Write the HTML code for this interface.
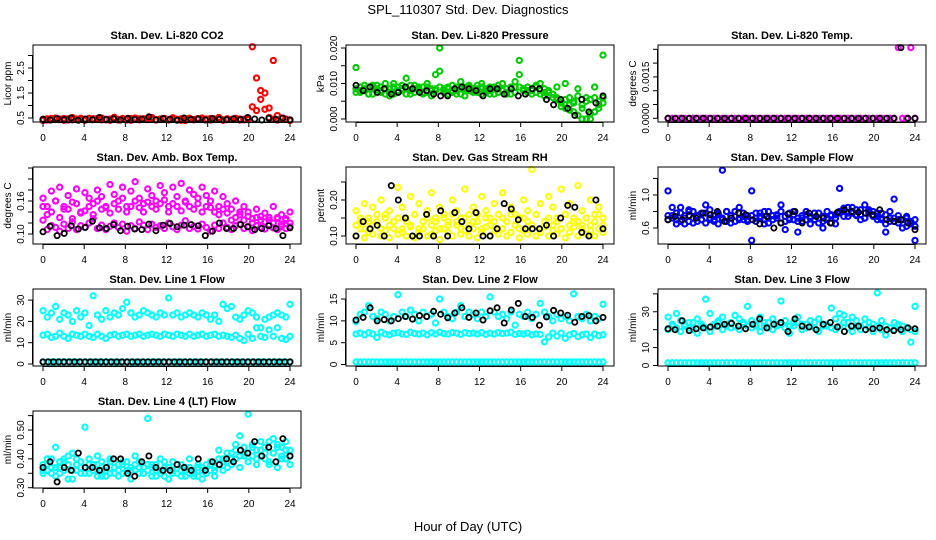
<!DOCTYPE html>
<html><head><meta charset="utf-8">
<style>
html,body{margin:0;padding:0;background:#fff;}
svg{display:block;font-family:"Liberation Sans",sans-serif;}
</style></head>
<body>
<svg id="chart" width="936" height="540" viewBox="0 0 936 540">
<rect width="936" height="540" fill="#fff"/>
<text x="468" y="14" text-anchor="middle" font-size="13">SPL_110307  Std. Dev. Diagnostics</text>
<text x="468" y="531" text-anchor="middle" font-size="13">Hour of Day (UTC)</text>
</svg>
<script>
const xTicks = [0,4,8,12,16,20,24];

const co2A = [0.40,0.47,0.43,0.50,0.44,0.48,0.42,0.52,0.46,0.45,0.41,0.49,0.47,0.44,0.50,0.43,0.46,0.53,0.42,0.48,0.45,0.41,0.50,0.47,0.44,0.49,0.52,0.43,0.46,0.48,0.42,0.51,0.45,0.47,0.40,0.49,0.44,0.46,0.50,0.43,0.48,0.45,0.52,0.41,0.47,0.44,0.49,0.46,0.43,0.50,0.95,0.80,1.25,0.85,0.52,0.45,0.42,0.49,0.46,0.40];
const co2B = [0.45,0.42,0.48,0.44,0.46,0.41,0.47,0.43,0.45,0.49,0.42,0.46,0.44,0.48,0.43,0.45,0.41,0.47,0.44,0.46,0.42,0.48,0.45,0.43,0.47,0.44,0.46,0.42,0.45,0.48,0.43,0.46,0.44,0.41,0.47,0.45,0.43,0.48,0.44,0.46,0.42,0.45,0.47,0.43,0.46,0.44,0.48,0.42,0.45,0.44,3.35,2.1,1.6,1.5,0.9,2.8,0.6,0.5,0.45,0.42];
const co2K = [0.45,0.42,0.48,0.44,0.50,0.41,0.46,0.43,0.52,0.45,0.47,0.42,0.49,0.44,0.46,0.55,0.43,0.48,0.45,0.41,0.50,0.44,0.46,0.42,0.48,0.45,0.43,0.47,0.44,0.52,0.46,0.42,0.49,0.45,0.50,0.43];

const presA = [0.0145,0.008,0.0095,0.007,0.009,0.0085,0.0075,0.010,0.0065,0.009,0.008,0.0095,0.0115,0.007,0.0085,0.009,0.0075,0.0100,0.008,0.0125,0.020,0.0085,0.0070,0.0095,0.008,0.0105,0.0065,0.009,0.0085,0.0075,0.0100,0.008,0.0090,0.0070,0.0085,0.0100,0.0075,0.0090,0.0105,0.0165,0.0085,0.0080,0.0070,0.0095,0.0100,0.0085,0.0080,0.0060,0.0090,0.0050,0.0100,0.0040,0.0020,0.0085,0.0000,0.0060,0.0000,0.0090,0.0030,0.0180];
const presB = [0.0085,0.0075,0.0080,0.0090,0.0070,0.0095,0.0080,0.0085,0.0075,0.0070,0.0090,0.0080,0.0085,0.0095,0.0075,0.0080,0.0070,0.0090,0.0085,0.0080,0.0135,0.0075,0.0090,0.0080,0.0070,0.0085,0.0090,0.0080,0.0075,0.0095,0.0070,0.0085,0.0080,0.0090,0.0075,0.0080,0.0085,0.0070,0.0090,0.0125,0.0080,0.0075,0.0085,0.0090,0.0080,0.0075,0.0065,0.0070,0.0055,0.0045,0.0030,0.0060,0.0050,0.0010,0.0040,0.0000,0.0055,0.0020,0.0050,0.0045];
const presC = [0.0075,0.0090,0.0085,0.0070,0.0095,0.0080,0.0090,0.0070,0.0085,0.0100,0.0075,0.0085,0.0070,0.0080,0.0095,0.0085,0.0090,0.0075,0.0065,0.0085,0.0090,0.0080,0.0085,0.0075,0.0090,0.0070,0.0085,0.0095,0.0080,0.0085,0.0090,0.0075,0.0070,0.0085,0.0095,0.0080,0.0070,0.0085,0.0075,0.0090,0.0085,0.0090,0.0080,0.0075,0.0070,0.0065,0.0075,0.0070,0.0060,0.0035,0.0055,0.0025,0.0045,0.0065,0.0030,0.0050,0.0015,0.0060,0.0040,0.0060];
const presK = [0.0095,0.008,0.009,0.0075,0.0085,0.007,0.0075,0.009,0.0085,0.0075,0.008,0.007,0.0065,0.0065,0.0085,0.009,0.0085,0.008,0.0065,0.0085,0.0085,0.007,0.0085,0.0065,0.007,0.0085,0.0085,0.0055,0.004,0.0055,0.003,0.001,0.0055,0.002,0.0045,0.0065];

const tempM = [0,0,0,0,0,0,0,0,0,0,0,0,0,0,0,0,0,0,0,0,0,0,0,0,0,0,0,0,0,0,0,0,0,0,0,0,0,0,0,0,0,0,0,0,0,0,0,0,0,0,0,0,0,0,0,0.00256,0,0,0.00256,0];
const tempK = [0,0,0,0,0,0,0,0,0,0,0,0,0,0,0,0,0,0,0,0,0,0,0,0,0,0,0,0,0,0,0,0,0,0.00256,0,0];

const ambA = [0.165,0.150,0.178,0.160,0.185,0.145,0.170,0.158,0.182,0.140,0.175,0.165,0.155,0.180,0.168,0.148,0.190,0.172,0.160,0.185,0.150,0.178,0.195,0.165,0.155,0.182,0.170,0.160,0.188,0.175,0.150,0.185,0.168,0.192,0.158,0.180,0.172,0.165,0.185,0.170,0.160,0.178,0.150,0.168,0.155,0.145,0.160,0.135,0.150,0.140,0.128,0.145,0.132,0.138,0.125,0.150,0.130,0.135,0.128,0.140];
const ambB = [0.125,0.108,0.115,0.112,0.105,0.118,0.110,0.122,0.108,0.115,0.112,0.120,0.128,0.110,0.116,0.108,0.114,0.120,0.112,0.118,0.105,0.115,0.110,0.122,0.116,0.108,0.118,0.112,0.115,0.110,0.120,0.113,0.108,0.116,0.124,0.110,0.114,0.109,0.118,0.112,0.105,0.116,0.110,0.120,0.112,0.108,0.115,0.118,0.110,0.113,0.106,0.115,0.112,0.109,0.117,0.111,0.108,0.114,0.110,0.113];
const ambC = [0.150,0.135,0.140,0.160,0.130,0.150,0.145,0.128,0.155,0.138,0.142,0.150,0.135,0.160,0.145,0.150,0.138,0.155,0.145,0.165,0.140,0.150,0.160,0.148,0.140,0.158,0.150,0.145,0.155,0.162,0.140,0.155,0.150,0.142,0.160,0.150,0.145,0.155,0.140,0.150,0.148,0.140,0.135,0.145,0.138,0.125,0.130,0.140,0.125,0.132,0.120,0.130,0.125,0.122,0.130,0.120,0.128,0.118,0.125,0.120];
const ambK = [0.104,0.114,0.097,0.101,0.115,0.109,0.112,0.123,0.111,0.110,0.117,0.106,0.114,0.109,0.108,0.118,0.106,0.116,0.119,0.113,0.116,0.117,0.115,0.097,0.105,0.120,0.110,0.110,0.117,0.113,0.108,0.110,0.115,0.110,0.097,0.111];

const rhA = [0.10,0.12,0.095,0.11,0.105,0.13,0.10,0.115,0.095,0.12,0.105,0.11,0.10,0.125,0.095,0.11,0.12,0.10,0.105,0.115,0.09,0.12,0.11,0.10,0.13,0.105,0.115,0.10,0.12,0.095,0.11,0.125,0.10,0.115,0.105,0.12,0.10,0.11,0.13,0.095,0.115,0.105,0.12,0.10,0.11,0.125,0.10,0.115,0.105,0.12,0.095,0.11,0.125,0.10,0.13,0.105,0.115,0.10,0.12,0.11];
const rhB = [0.17,0.15,0.19,0.14,0.18,0.16,0.20,0.15,0.17,0.14,0.235,0.18,0.15,0.21,0.16,0.19,0.14,0.17,0.22,0.15,0.18,0.16,0.14,0.20,0.17,0.15,0.23,0.16,0.18,0.14,0.21,0.17,0.15,0.19,0.16,0.22,0.14,0.18,0.16,0.15,0.20,0.17,0.285,0.16,0.19,0.14,0.21,0.18,0.15,0.23,0.16,0.19,0.14,0.24,0.17,0.15,0.20,0.16,0.18,0.15];
const rhC = [0.13,0.14,0.12,0.15,0.13,0.14,0.12,0.16,0.13,0.14,0.15,0.12,0.14,0.13,0.16,0.12,0.14,0.15,0.13,0.14,0.12,0.15,0.13,0.16,0.14,0.12,0.15,0.13,0.14,0.16,0.12,0.15,0.13,0.14,0.12,0.15,0.14,0.16,0.13,0.12,0.15,0.14,0.13,0.16,0.12,0.14,0.15,0.13,0.14,0.12,0.16,0.13,0.15,0.14,0.12,0.15,0.13,0.14,0.16,0.13];
const rhK = [0.10,0.14,0.12,0.13,0.10,0.24,0.20,0.15,0.10,0.10,0.16,0.10,0.17,0.10,0.165,0.14,0.12,0.165,0.10,0.10,0.12,0.19,0.175,0.145,0.12,0.12,0.12,0.13,0.10,0.15,0.185,0.18,0.11,0.10,0.20,0.12];

const sfA = [1.05,0.75,0.70,0.85,0.65,0.80,0.72,0.68,0.78,0.88,0.70,0.75,0.65,1.30,0.80,0.72,0.68,0.85,0.70,0.75,0.45,0.78,0.72,0.65,0.80,0.70,0.75,0.88,0.68,0.72,0.80,0.55,0.75,0.70,0.65,0.78,0.72,0.60,0.80,0.75,0.65,1.08,0.80,0.85,0.78,0.75,0.70,0.88,0.82,0.75,0.78,0.72,0.65,0.80,0.95,0.70,0.60,0.72,0.65,0.45];
const sfB = [0.75,0.85,0.65,0.78,0.72,0.68,0.80,0.75,0.70,0.66,0.82,0.70,0.78,0.72,0.68,0.75,0.80,0.70,0.74,0.68,1.05,0.72,0.78,0.70,0.66,0.75,0.72,0.80,0.58,0.70,0.76,0.68,0.72,0.80,0.74,0.70,0.78,0.68,0.72,0.66,0.76,0.80,0.74,0.78,0.85,0.82,0.76,0.72,0.80,0.74,0.70,0.78,0.55,0.72,0.68,0.75,0.70,0.62,0.68,0.62];
const sfC = [0.70,0.72,0.78,0.68,0.75,0.82,0.66,0.74,0.70,0.78,0.72,0.68,0.76,0.70,0.80,0.66,0.74,0.72,0.78,0.70,0.75,0.68,0.74,0.80,0.72,0.70,0.76,0.66,0.74,0.78,0.70,0.72,0.68,0.76,0.72,0.70,0.66,0.74,0.70,0.76,0.72,0.78,0.84,0.74,0.80,0.76,0.82,0.72,0.78,0.80,0.74,0.70,0.76,0.68,0.72,0.66,0.70,0.74,0.66,0.70];
const sfK = [0.70,0.74,0.70,0.75,0.72,0.78,0.76,0.80,0.68,0.72,0.78,0.76,0.70,0.65,0.74,0.60,0.66,0.77,0.80,0.66,0.78,0.74,0.72,0.66,0.79,0.82,0.80,0.79,0.78,0.76,0.82,0.70,0.68,0.70,0.66,0.58];

const l1A = [25,22,24,27,21,24,23,20,25,22,24,18,32,23,21,25,22,24,23,26,29,24,22,23,25,24,23,22,24,23,31,23,24,22,23,24,23,22,24,23,21,23,20,28,26,27,22,21,23,25,24,22,17,21,22,23,24,23,22,28];
const l1B = [13.5,14,12.5,13,14.5,13,12,14,13.5,13,14,13,12.5,14,13,12,13.5,14,13,13.5,14,13,13.5,14,13,13.5,14,13.5,13,14,13.5,13,14,13.5,13,14,13,13.5,14,13,13.5,14,13,13.5,13,12.5,13.5,12,11,14,12,17,13,12.5,16,13,17,12,11.5,13];
const l1C = [1,1,1,1,1,1,1,1,1,1,1,1,1,1,1,1,1,1,1,1,1,1,1,1,1,1,1,1,1,1,1,1,1,1,1,1,1,1,1,1,1,1,1,1,1,1,1,1,1,1,1,1,1,1,1,1,1,1,1,1];
const l1K = [1,1,1,1,1,1,1,1,1,1,1,1,1,1,1,1,1,1,1,1,1,1,1,1,1,1,1,1,1,1,1,1,1,1,1,1,1,1,1,1,1,1,1,1,1,1,1,1];

const l2A = [9.8,11.5,12,13.5,11,10.5,12,11.5,10,11,16,12,11,12.5,11.5,10,12,11,11.5,9.5,15,12,11,10.5,12,13.5,11,12,11.5,10.5,12,11,15.5,12,11,11.5,10.5,12,9,11.5,11,12,10.5,11.5,14,12,11,10,11.5,10.5,11,10,16.2,11,10.5,11.5,10,11,10.5,13.8];
const l2B = [7,7.2,6.8,7.3,7,6.2,7.4,7,6.8,7.2,7.3,7,6.9,7.4,7.1,7,7.2,6.8,7.3,7,7.4,7.1,7,7.3,7.2,6.9,7.3,7.1,7.2,7,7.3,6.9,7.2,7,7.3,7.1,7.2,7.4,6.9,7.1,7,7.2,6.8,7,6.9,5.2,6.3,7.2,6.5,7.2,6,6.8,7.1,6.4,6.8,7,6.2,7,6.6,6.8];
const l2C = [0.6,0.6,0.6,0.6,0.6,0.6,0.6,0.6,0.6,0.6,0.6,0.6,0.6,0.6,0.6,0.6,0.6,0.6,0.6,0.6,0.6,0.6,0.6,0.6,0.6,0.6,0.6,0.6,0.6,0.6,0.6,0.6,0.6,0.6,0.6,0.6,0.6,0.6,0.6,0.6,0.6,0.6,0.6,0.6,0.6,0.6,0.6,0.6,0.6,0.6,0.6,0.6,0.6,0.6,0.6,0.6,0.6,0.6,0.6,0.6];
const l2K = [10.2,10.8,13,10,10.3,10,10.5,11,10.4,11.2,11,12.2,11.5,10.7,11.8,13,10.8,11.8,10.2,12.3,13,9.5,12.5,14,11,10.8,9,10.9,12.4,11.8,11.3,9.7,11,11.2,10,10.8];

const l3A = [27,22,29,25,23,21,24,26,22,37,29,23,25,27,22,24,28,26,23,33,25,22,27,24,21,26,23,36,25,22,24,27,23,21,25,24,26,22,23,32,26,29,28,24,27,25,22,26,24,23,40.5,25,22,21,24,23,22,21,13,33];
const l3B = [20,23,21,19,22,24,20,18,23,21,19,22,24,20,23,21,22,20,24,22,21,23,19,22,24,20,22,23,21,18,22,24,20,23,22,21,19,23,22,21,20,22,24,21,19,22,20,23,21,19,22,20,17,21,20,22,19,21,20,19];
const l3C = [1.5,1.5,1.5,1.5,1.5,1.5,1.5,1.5,1.5,1.5,1.5,1.5,1.5,1.5,1.5,1.5,1.5,1.5,1.5,1.5,1.5,1.5,1.5,1.5,1.5,1.5,1.5,1.5,1.5,1.5,1.5,1.5,1.5,1.5,1.5,1.5,1.5,1.5,1.5,1.5,1.5,1.5,1.5,1.5,1.5,1.5,1.5,1.5,1.5,1.5,1.5,1.5,1.5,1.5,1.5,1.5,1.5,1.5,1.5,1.5];
const l3K = [20.5,20,25,19.5,20.5,21,21.5,22,23,23.5,22,20.5,23,26,21,23,24,19,26,22,21.5,20,23,24,21.5,19,22,22,20,20.5,21,20,19.5,20,21,20.5];

const l4A = [0.36,0.38,0.35,0.44,0.37,0.40,0.33,0.42,0.36,0.39,0.51,0.35,0.38,0.41,0.36,0.34,0.40,0.37,0.38,0.35,0.39,0.36,0.41,0.37,0.35,0.54,0.38,0.36,0.40,0.34,0.37,0.39,0.35,0.38,0.36,0.40,0.34,0.37,0.33,0.38,0.39,0.36,0.43,0.40,0.37,0.42,0.45,0.48,0.41,0.555,0.44,0.40,0.46,0.42,0.38,0.47,0.44,0.41,0.46,0.43];
const l4B = [0.38,0.36,0.40,0.37,0.35,0.39,0.41,0.36,0.38,0.35,0.37,0.40,0.36,0.38,0.34,0.37,0.39,0.35,0.36,0.38,0.35,0.37,0.36,0.39,0.35,0.38,0.37,0.34,0.36,0.39,0.37,0.35,0.38,0.36,0.34,0.37,0.35,0.38,0.36,0.35,0.38,0.37,0.40,0.39,0.42,0.40,0.43,0.41,0.44,0.42,0.45,0.43,0.41,0.44,0.46,0.42,0.45,0.40,0.43,0.41];
const l4C = [0.35,0.40,0.37,0.34,0.39,0.36,0.38,0.33,0.40,0.37,0.35,0.38,0.36,0.34,0.39,0.36,0.35,0.37,0.34,0.39,0.36,0.33,0.38,0.35,0.37,0.36,0.34,0.38,0.35,0.37,0.33,0.36,0.38,0.34,0.37,0.35,0.36,0.34,0.37,0.35,0.36,0.34,0.38,0.36,0.39,0.38,0.40,0.37,0.42,0.39,0.41,0.38,0.43,0.40,0.39,0.42,0.37,0.44,0.40,0.38];
const l4K = [0.37,0.39,0.32,0.37,0.36,0.42,0.37,0.37,0.36,0.37,0.40,0.40,0.35,0.34,0.39,0.41,0.37,0.36,0.36,0.38,0.37,0.36,0.40,0.36,0.39,0.38,0.40,0.39,0.43,0.42,0.46,0.41,0.44,0.39,0.47,0.41];

const co2Ticks = [0.5,1,1.5,2,2.5,3];
const co2Labels = ["0.5","","1.5","","2.5",""];
const presTicks = [0,0.005,0.01,0.015,0.02];
const presLabels = ["0.000","","0.010","","0.020"];
const tempTicks = [0,0.0005,0.001,0.0015,0.002,0.0025];
const tempLabels = ["0.0000","","","0.0015","",""];
const ambTicks = [0.10,0.12,0.14,0.16,0.18,0.20,0.22];
const ambLabels = ["0.10","","","0.16","","",""];
const rhTicks = [0.10,0.15,0.20,0.25];
const rhLabels = ["0.10","","0.20",""];
const sfTicks = [0.6,0.8,1.0,1.2];
const sfLabels = ["0.6","","1.0",""];
const l1Ticks = [0,10,20,30];
const l1Labels = ["0","10","20","30"];
const l2Ticks = [0,5,10,15];
const l2Labels = ["0","5","10","15"];
const l3Ticks = [0,10,20,30,40];
const l3Labels = ["0","10","","30",""];
const l4Ticks = [0.30,0.35,0.40,0.45,0.50,0.55];
const l4Labels = ["0.30","","0.40","","0.50",""];

const NS = "http://www.w3.org/2000/svg";
const svg = document.getElementById("chart");
function mk(tag, attrs, parent) {
  const e = document.createElementNS(NS, tag);
  for (const k in attrs) e.setAttribute(k, attrs[k]);
  parent.appendChild(e);
  return e;
}
const colLeft = [33, 346, 658];
const rowTop = [45, 167, 289, 411];
const boxW = 268, boxH = 77;

const panels = [
 {name:"co2", title:"Stan. Dev. Li-820 CO2", ylab:"Licor ppm", c:0, r:0, ymin:0.34, ymax:3.42, ticks:co2Ticks, labels:co2Labels, series:[[co2A,"#ff0000"],[co2B,"#ff0000"],[co2K,"#000"]]},
 {name:"pressure", title:"Stan. Dev. Li-820 Pressure", ylab:"kPa", c:1, r:0, ymin:-0.00085, ymax:0.02085, ticks:presTicks, labels:presLabels, series:[[presA,"#00cc00"],[presB,"#00cc00"],[presC,"#00cc00"],[presK,"#000"]]},
 {name:"li-temp", title:"Stan. Dev. Li-820 Temp.", ylab:"degrees C", c:2, r:0, ymin:-0.000134, ymax:0.002656, ticks:tempTicks, labels:tempLabels, series:[[tempM,"#ff00ff"],[tempK,"#000"]]},
 {name:"amb-temp", title:"Stan. Dev. Amb. Box Temp.", ylab:"degrees C", c:0, r:1, ymin:0.0818, ymax:0.2218, ticks:ambTicks, labels:ambLabels, series:[[ambA,"#ff00ff"],[ambB,"#ff00ff"],[ambC,"#ff00ff"],[ambK,"#000"]]},
 {name:"rh", title:"Stan. Dev. Gas Stream RH", ylab:"percent", c:1, r:1, ymin:0.0778, ymax:0.2917, ticks:rhTicks, labels:rhLabels, series:[[rhA,"#ffff00"],[rhB,"#ffff00"],[rhC,"#ffff00"],[rhK,"#000"]]},
 {name:"sample-flow", title:"Stan. Dev. Sample Flow", ylab:"ml/min", c:2, r:1, ymin:0.406, ymax:1.339, ticks:sfTicks, labels:sfLabels, series:[[sfA,"#0000ff"],[sfB,"#0000ff"],[sfC,"#0000ff"],[sfK,"#000"]]},
 {name:"line1", title:"Stan. Dev. Line 1 Flow", ylab:"ml/min", c:0, r:2, ymin:-0.94, ymax:35.2, ticks:l1Ticks, labels:l1Labels, series:[[l1A,"#00ffff"],[l1B,"#00ffff"],[l1C,"#00ffff"],[l1K,"#000"]]},
 {name:"line2", title:"Stan. Dev. Line 2 Flow", ylab:"ml/min", c:1, r:2, ymin:-0.34, ymax:17.3, ticks:l2Ticks, labels:l2Labels, series:[[l2A,"#00ffff"],[l2B,"#00ffff"],[l2C,"#00ffff"],[l2K,"#000"]]},
 {name:"line3", title:"Stan. Dev. Line 3 Flow", ylab:"ml/min", c:2, r:2, ymin:-0.28, ymax:42.7, ticks:l3Ticks, labels:l3Labels, series:[[l3A,"#00ffff"],[l3B,"#00ffff"],[l3C,"#00ffff"],[l3K,"#000"]]},
 {name:"line4", title:"Stan. Dev. Line 4 (LT) Flow", ylab:"ml/min", c:0, r:3, ymin:0.299, ymax:0.566, ticks:l4Ticks, labels:l4Labels, series:[[l4A,"#00ffff"],[l4B,"#00ffff"],[l4C,"#00ffff"],[l4K,"#000"]]}
];

panels.forEach(p => {
  const L = colLeft[p.c], T = rowTop[p.r];
  const g = mk("g", {}, svg);
  
  
  const xs = h => L + 10 + h * 247 / 24;
  const ys = v => T + boxH - (v - p.ymin) / (p.ymax - p.ymin) * boxH;
  const t = mk("text", {x: L + boxW/2, y: T - 6, "text-anchor":"middle", "font-size":"11", "font-weight":"bold"}, g);
  t.textContent = p.title;
  
  
  p.series.forEach((s, si) => {
    const vals = s[0], col = s[1];
    const black = col === "#000";
    const sg = mk("g", {fill:"none", stroke:col, "stroke-width": black ? "1.8" : "2.1"}, g);
    
    
    const n = vals.length;
    vals.forEach((v, i) => {
      const h = 24 * i / (n - 1);
      const c = mk("circle", {cx: xs(h).toFixed(1), cy: ys(v).toFixed(1), r: "2.6"}, sg);
      
      
    });
  });
  const b = mk("rect", {x:L, y:T, width:boxW, height:boxH, fill:"none", stroke:"#000", "stroke-width":"1"}, g);
  
  
  const xa = mk("g", {}, g);
  
  
  mk("line", {x1: xs(0), x2: xs(24), y1: T + boxH + 0.5, y2: T + boxH + 0.5, stroke:"#000"}, xa);
  xTicks.forEach(h => {
    mk("line", {x1: xs(h), x2: xs(h), y1: T + boxH, y2: T + boxH + 5, stroke:"#000"}, xa);
    const tl = mk("text", {x: xs(h), y: T + boxH + 19, "text-anchor":"middle", "font-size":"10"}, xa);
    tl.textContent = h;
    
    
  });
  const ya = mk("g", {}, g);
  
  
  mk("line", {x1: L - 0.5, x2: L - 0.5, y1: ys(p.ticks[0]), y2: ys(p.ticks[p.ticks.length-1]), stroke:"#000"}, ya);
  p.ticks.forEach((v, i) => {
    const y = ys(v);
    mk("line", {x1: L - 5, x2: L, y1: y, y2: y, stroke:"#000"}, ya);
    if (p.labels[i]) {
      const yl = mk("text", {x: L - 9, y: y, "text-anchor":"middle", "font-size":"10", transform:`rotate(-90 ${L-9} ${y})`}, ya);
      yl.textContent = p.labels[i];
      
      
    }
  });
  const yt = mk("text", {x: L - 22, y: T + boxH/2, "text-anchor":"middle", "font-size":"10", transform:`rotate(-90 ${L-22} ${T+boxH/2})`}, g);
  yt.textContent = p.ylab;
  
  
});
</script>
</body></html>
